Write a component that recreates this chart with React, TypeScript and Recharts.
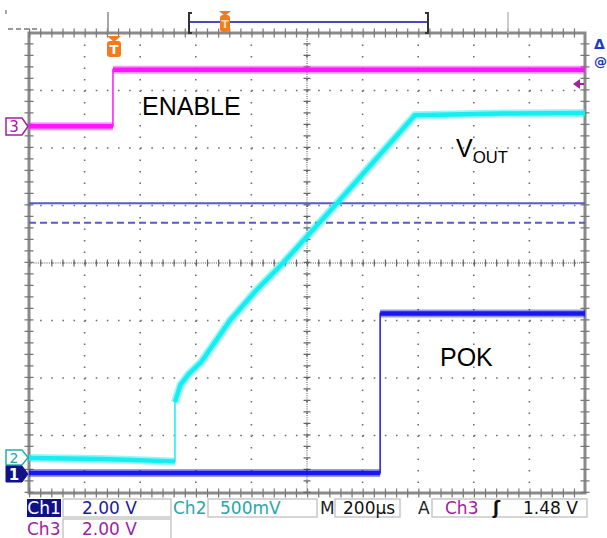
import React from 'react';
import { LineChart, Line, XAxis, YAxis, CartesianGrid, ReferenceLine, ReferenceArea } from 'recharts';

// Time in µs from the left edge of the screen (200 µs/div), level in screen divisions (0 = centre line)
const timeTicks = [0, 200, 400, 600, 800, 1000, 1200, 1400, 1600, 1800, 2000];
const levelTicks = [-4, -3, -2, -1, 0, 1, 2, 3, 4];

// Ch3 – ENABLE
const enableTrace = [
  { t: 0, v: 2.38 },
  { t: 302, v: 2.38 },
  { t: 302, v: 3.36 },
  { t: 2000, v: 3.36 },
];

// Ch2 – VOUT
const voutTrace = [
  { t: 0, v: -3.39 },
  { t: 260, v: -3.41 },
  { t: 525, v: -3.45 },
  { t: 525, v: -2.42 },
  { t: 545, v: -2.12 },
  { t: 575, v: -1.93 },
  { t: 620, v: -1.72 },
  { t: 723, v: -1.0 },
  { t: 813, v: -0.5 },
  { t: 914, v: 0.0 },
  { t: 1108, v: 1.04 },
  { t: 1388, v: 2.57 },
  { t: 1700, v: 2.6 },
  { t: 2000, v: 2.61 },
];

// Ch1 – POK
const pokTrace = [
  { t: 0, v: -3.65 },
  { t: 1263, v: -3.65 },
  { t: 1263, v: -0.88 },
  { t: 2000, v: -0.88 },
];

// Cursor levels (divisions)
const cursorSolid = 1.04;
const cursorDashed = 0.7;

const withGap = (trace: { t: number; v: number | null }[]) => {
  const out: { t: number; v: number | null }[] = [];
  trace.forEach((p, i) => {
    if (i > 0 && trace[i - 1].t === p.t) out.push({ t: p.t, v: null });
    out.push(p);
  });
  return out;
};

const MAGENTA = '#ff14ff';
const CYAN = '#16eef0';
const BLUE = '#1818ee';
const CURSOR = '#5a5ac8';
const FRAME = '#8a8a8a';
const ORANGE = '#f47a1e';
const STAT = '"DejaVu Sans", sans-serif';
const LABEL = '"Liberation Sans", Arial, sans-serif';

function traceLines(key: string, data: any[], color: string) {
  const band = withGap(data);
  return [
    <Line key={key + 'w'} data={band} dataKey="v" type="linear" stroke={color} strokeOpacity={0.45}
      strokeWidth={8} strokeLinecap="butt" dot={false} activeDot={false} isAnimationActive={false} connectNulls={false} />,
    <Line key={key + 'b'} data={band} dataKey="v" type="linear" stroke={color}
      strokeWidth={4.5} strokeLinecap="butt" dot={false} activeDot={false} isAnimationActive={false} connectNulls={false} />,
    <Line key={key + 't'} data={data} dataKey="v" type="linear" stroke={color}
      strokeWidth={1.5} dot={false} activeDot={false} isAnimationActive={false} />,
  ];
}

export default function App() {
  return (
    <div style={{ position: 'absolute', left: 0, top: 0, width: 607, height: 538, background: '#fff', overflow: 'hidden' }}>
      <LineChart width={607} height={538} margin={{ top: 33, right: 22, bottom: 45, left: 29 }}>
        <XAxis dataKey="t" type="number" domain={[0, 2000]} ticks={timeTicks} hide allowDataOverflow />
        <YAxis type="number" domain={[-4, 4]} ticks={levelTicks} hide allowDataOverflow />
        <CartesianGrid vertical={false} stroke="#6e6e6e" strokeWidth={1.6} strokeDasharray="1.6 9.52" />
        <CartesianGrid horizontal={false} stroke="#6e6e6e" strokeWidth={1.6} strokeDasharray="1.6 9.9" />
        {/* centre lines with minor ticks */}
        <ReferenceLine x={1000} stroke="#555" strokeWidth={1} strokeDasharray="1 1.2" />
        <ReferenceLine y={0} stroke="#555" strokeWidth={1} strokeDasharray="1 1.2" />
        <ReferenceLine x={1000} stroke="#666" strokeWidth={7} strokeDasharray="1.2 10.3" />
        <ReferenceLine y={0} stroke="#666" strokeWidth={7} strokeDasharray="1.2 9.92" />
        {/* edge ticks */}
        <ReferenceLine x={0} stroke="#777" strokeWidth={9} strokeDasharray="1.2 10.3" />
        <ReferenceLine x={2000} stroke="#777" strokeWidth={9} strokeDasharray="1.2 10.3" />
        <ReferenceLine y={4} stroke="#777" strokeWidth={9} strokeDasharray="1.2 9.92" />
        <ReferenceLine y={-4} stroke="#777" strokeWidth={9} strokeDasharray="1.2 9.92" />
        <ReferenceArea x1={0} x2={2000} y1={-4} y2={4} fill="none" stroke={FRAME} strokeWidth={3} fillOpacity={0} />
        {/* cursors */}
        <ReferenceLine y={cursorSolid} stroke={CURSOR} strokeWidth={2} />
        <ReferenceLine y={cursorDashed} stroke={CURSOR} strokeWidth={2} strokeDasharray="7 4" />
        {traceLines('pok', pokTrace, BLUE)}
        {traceLines('en', enableTrace, MAGENTA)}
        {traceLines('vo', voutTrace, CYAN)}
      </LineChart>

      <svg width={607} height={538} style={{ position: 'absolute', left: 0, top: 0, pointerEvents: 'none' }}>
        {/* top bar */}
        <line x1={6} y1={10} x2={6} y2={14} stroke="#555" strokeWidth={1} />
        <line x1={8} y1={29} x2={39} y2={29} stroke="#333" strokeWidth={1} strokeDasharray="5 3" />
        <line x1={108} y1={12} x2={108} y2={33} stroke="#888" strokeWidth={1.5} />
        <line x1={508} y1={12} x2={508} y2={33} stroke="#bbb" strokeWidth={1.5} />
        <line x1={189} y1={22} x2={428} y2={22} stroke="#4a4ab8" strokeWidth={2} />
        <path d="M192,13 H189 V33 H192" stroke="#333" strokeWidth={2} fill="none" />
        <path d="M425,13 H428 V33 H425" stroke="#333" strokeWidth={2} fill="none" />
        <polygon points="219,11 231,11 225,16" fill={ORANGE} />
        <rect x={220} y={15} width={10} height={17} rx={3} fill={ORANGE} />
        <text x={225} y={28} fontFamily={STAT} fontSize={11} fontWeight="bold" fill="#ffd9b0" textAnchor="middle">T</text>

        {/* trigger marker */}
        <polygon points="107,36 121,36 114,42" fill={ORANGE} />
        <rect x={107} y={41} width={14} height={16} rx={3} fill={ORANGE} />
        <text x={114} y={54} fontFamily={STAT} fontSize={13} fontWeight="bold" fill="#fff" textAnchor="middle">T</text>

        {/* right side */}
        <text x={594} y={49} fontFamily={STAT} fontSize={14} fontWeight="bold" fill="#1a3cc0">Δ</text>
        <text x={594} y={66} fontFamily={STAT} fontSize={13} fontWeight="bold" fill="#1a3cc0">@</text>
        <polygon points="573,84 580,79 580,89" fill="#a020a0" />
        <line x1={579} y1={84} x2={584} y2={84} stroke="#a020a0" strokeWidth={2} />

        {/* channel markers */}
        <polygon points="6,118 22,118 28,126.5 22,135 6,135" fill="#fff" stroke="#a020a0" strokeWidth={1.5} />
        <text x={14} y={132} fontFamily={STAT} fontSize={15} fill="#a020a0" textAnchor="middle">3</text>
        <polygon points="6,450 22,450 28,457.5 22,465 6,465" fill="#fff" stroke="#20b0b0" strokeWidth={1.5} />
        <text x={14} y={463} fontFamily={STAT} fontSize={14} fill="#20a8a8" textAnchor="middle">2</text>
        <polygon points="6,466 22,466 28,474 22,482 6,482" fill="#101088" stroke="#101088" strokeWidth={1} />
        <text x={14} y={480} fontFamily={STAT} fontSize={15} fontWeight="bold" fill="#fff" textAnchor="middle">1</text>

        {/* trace labels */}
        <text x={142} y={115} fontFamily={LABEL} fontSize={25} fill="#000">ENABLE</text>
        <text x={456} y={157} fontFamily={LABEL} fontSize={25} fill="#000">V</text>
        <text x={473} y={163} fontFamily={LABEL} fontSize={16.5} fill="#000">OUT</text>
        <text x={440} y={366} fontFamily={LABEL} fontSize={25} fill="#000">POK</text>

        {/* status bar row 1 */}
        <rect x={27} y={499} width={34} height={18} fill="#101088" />
        <text x={44} y={514} fontFamily={STAT} fontSize={17} fill="#fff" textAnchor="middle">Ch1</text>
        <rect x={63} y={499} width={108} height={18} fill="#fff" stroke="#c8c8c8" strokeWidth={1.5} />
        <text x={82} y={514} fontFamily={STAT} fontSize={17} fill="#1c1c9c">2.00 V</text>
        <text x={173} y={514} fontFamily={STAT} fontSize={17} fill="#2aa6a6">Ch2</text>
        <rect x={208} y={499} width={109} height={18} fill="#fff" stroke="#c8c8c8" strokeWidth={1.5} />
        <text x={220} y={514} fontFamily={STAT} fontSize={17} fill="#2aa6a6">500mV</text>
        <text x={320} y={514} fontFamily={STAT} fontSize={17} fill="#222">M</text>
        <rect x={335} y={499} width={65} height={18} fill="#fff" stroke="#c8c8c8" strokeWidth={1.5} />
        <text x={343} y={514} fontFamily={STAT} fontSize={17} fill="#111">200µs</text>
        <text x={418} y={514} fontFamily={STAT} fontSize={17} fill="#222">A</text>
        <rect x={432} y={499} width={155} height={18} fill="#fff" stroke="#c8c8c8" strokeWidth={1.5} />
        <text x={445} y={514} fontFamily={STAT} fontSize={17} fill="#a01ea0">Ch3</text>
        <text x={493} y={514} fontFamily={STAT} fontSize={17} fontWeight="bold" fill="#111">ʃ</text>
        <text x={523} y={514} fontFamily={STAT} fontSize={17} fill="#111">1.48 V</text>

        {/* status bar row 2 */}
        <text x={27} y={535} fontFamily={STAT} fontSize={17} fill="#a01ea0">Ch3</text>
        <rect x={63} y={519} width={108} height={22} fill="#fff" stroke="#c8c8c8" strokeWidth={1.5} />
        <text x={82} y={535} fontFamily={STAT} fontSize={17} fill="#a01ea0">2.00 V</text>
      </svg>
    </div>
  );
}
